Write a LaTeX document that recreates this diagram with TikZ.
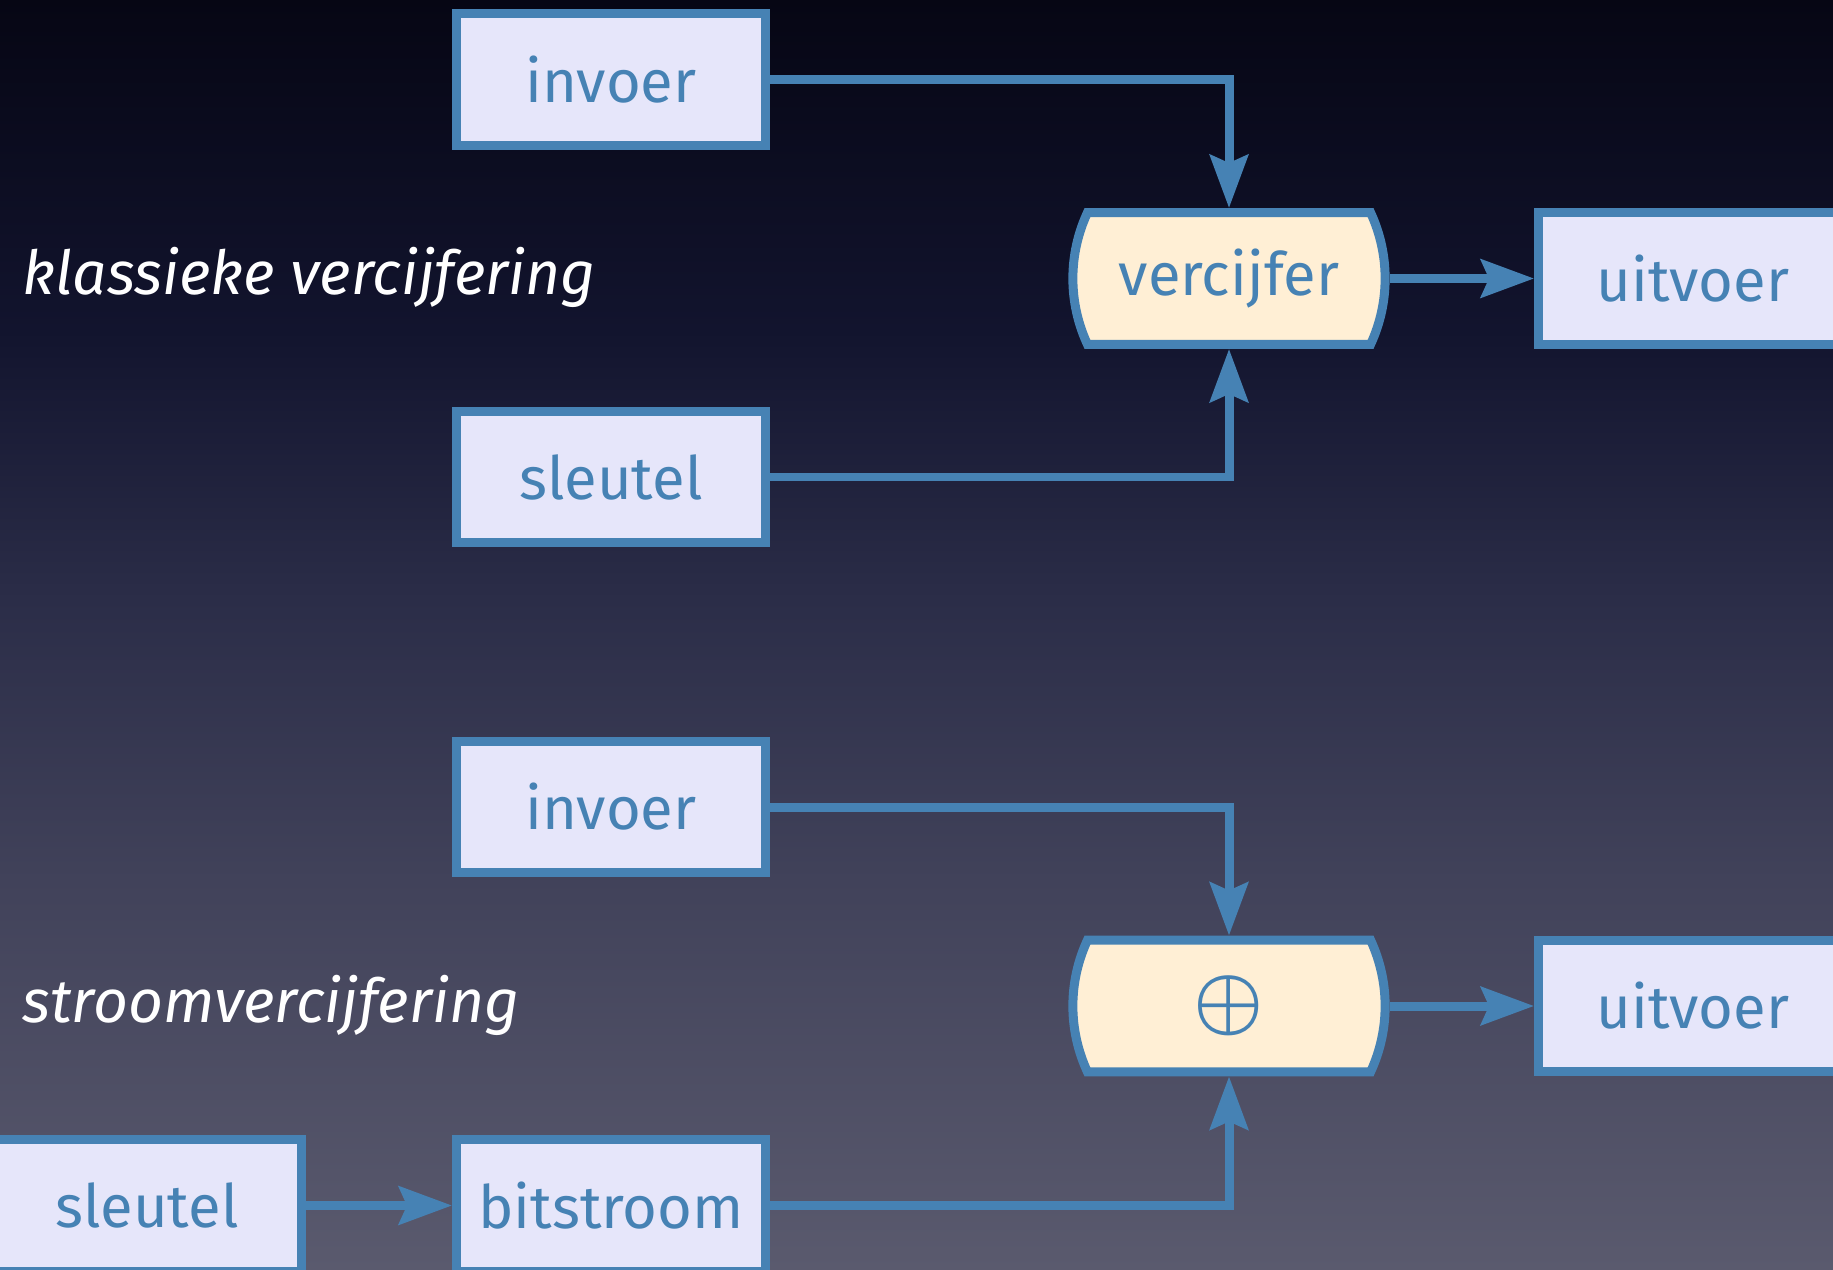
\documentclass[tikz,border=0pt]{standalone}
\usepackage{fontspec}
\setmainfont{Fira Sans}
\usetikzlibrary{arrows.meta,shapes.misc,positioning}
\definecolor{staal}{RGB}{70,130,180}
\definecolor{lavendel}{RGB}{230,230,250}
\definecolor{perzik}{RGB}{255,239,213}
\definecolor{bgtop}{RGB}{6,6,20}
\definecolor{bgb}{RGB}{18,20,46}
\definecolor{bgmid}{RGB}{43,45,72}
\definecolor{bgc}{RGB}{65,66,90}
\definecolor{bgbot}{RGB}{90,90,110}
\pgfdeclareverticalshading{achtergrond}{100bp}{color(0bp)=(bgbot); color(25bp)=(bgbot); color(40.35bp)=(bgc); color(51.4bp)=(bgmid); color(62bp)=(bgb); color(75bp)=(bgtop); color(100bp)=(bgtop)}
\tikzstyle{blok}=[rectangle,draw=staal,fill=lavendel,line width=0.18cm,minimum width=6.18cm,minimum height=2.64cm,inner sep=0pt,text=staal,font=\fontsize{34}{40}\selectfont]
\tikzstyle{bewerking}=[blok,rounded rectangle,rounded rectangle arc length=50,fill=perzik]
\tikzstyle{pijl}=[-{Stealth[length=1.06cm,width=0.76cm,inset=0.16cm]},draw=staal,line width=0.18cm]
\tikzstyle{titel}=[anchor=base west,inner sep=0pt,text=white,font=\fontsize{34.5}{40}\selectfont\itshape]

\begin{document}
\begin{tikzpicture}[x=0.02cm,y=-0.02cm]
\useasboundingbox (0,0) rectangle (1833,1270);
\clip (0,0) rectangle (1833,1270);
\shade[shading=achtergrond] (0,0) rectangle (1833,1270);

\node[blok] (invoer1) at (611,79.5) {invoer};
\node[blok] (sleutel1) at (611,477) {sleutel};
\node[bewerking] (vercijfer) at (1229,278.5) {vercijfer};
\node[blok] (uitvoer1) at (1693,278.5) {uitvoer};
\node[titel] (klassiek) at (22,295) {klassieke vercijfering};
\draw[pijl] (invoer1) -| (vercijfer);
\draw[pijl] (sleutel1) -| (vercijfer);
\draw[pijl] (vercijfer) -- (uitvoer1);

\node[blok] (invoer2) at (611,807) {invoer};
\node[bewerking] (xor) at (1229,1006) {\scalebox{1.8}{\boldmath$\oplus$}};
\node[blok] (uitvoer2) at (1693,1006) {uitvoer};
\node[blok] (sleutel2) at (147,1205.5) {sleutel};
\node[blok] (bitstroom) at (611,1205.5) {bitstroom};
\node[titel] (stroom) at (22,1022) {stroomvercijfering};
\draw[pijl] (invoer2) -| (xor);
\draw[pijl] (bitstroom) -| (xor);
\draw[pijl] (xor) -- (uitvoer2);
\draw[pijl] (sleutel2) -- (bitstroom);
\end{tikzpicture}
\end{document}
